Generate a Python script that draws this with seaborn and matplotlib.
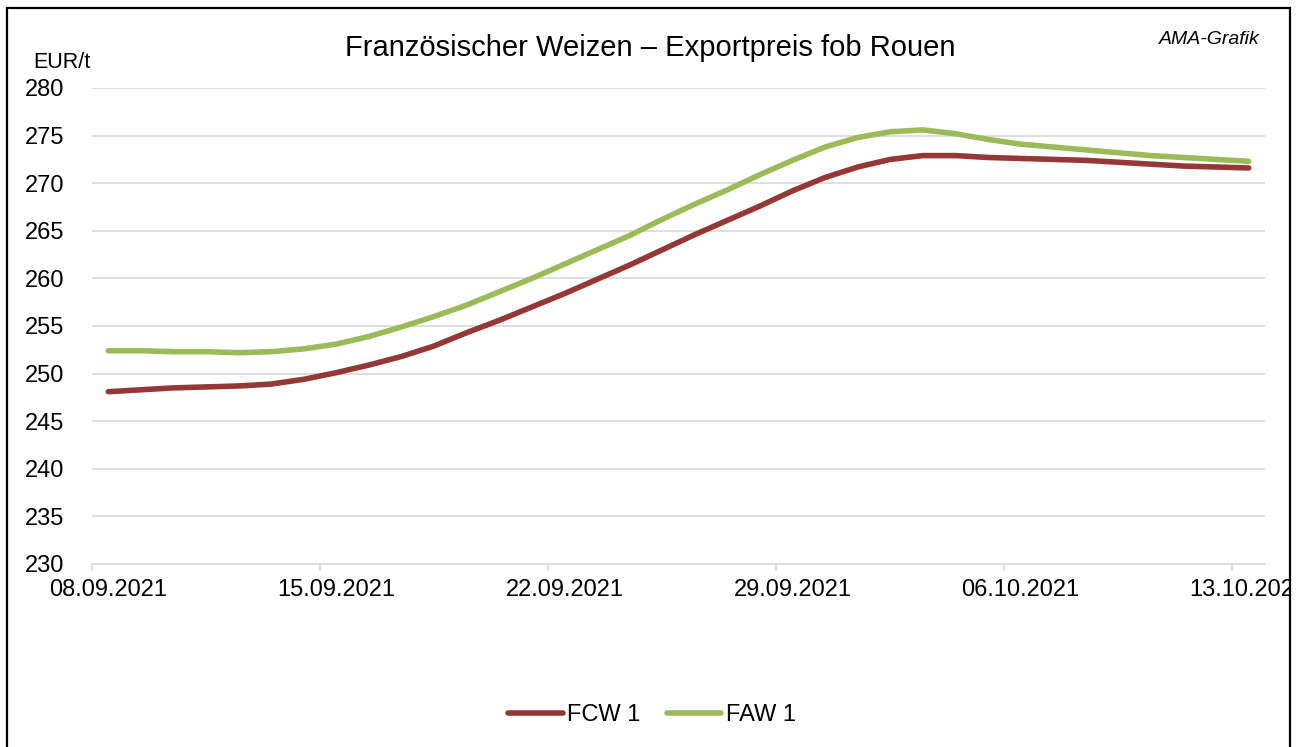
import matplotlib
matplotlib.use('Agg')
import matplotlib.pyplot as plt
import matplotlib.dates as mdates
from matplotlib.patches import Rectangle
from matplotlib.transforms import Bbox, TransformedBbox
import seaborn as sns
import pandas as pd

# daily values (08.09.2021 - 13.10.2021)
days = pd.date_range('2021-09-08', '2021-10-13', freq='D')
fcw1 = [248.1, 248.3, 248.5, 248.6, 248.7, 248.9, 249.4, 250.1, 250.9, 251.8,
        252.9, 254.3, 255.6, 257.0, 258.4, 259.9, 261.4, 263.0, 264.6, 266.1,
        267.6, 269.2, 270.6, 271.7, 272.5, 272.9, 272.9, 272.7, 272.6, 272.5,
        272.4, 272.2, 272.0, 271.8, 271.7, 271.6]
faw1 = [252.4, 252.4, 252.3, 252.3, 252.2, 252.3, 252.6, 253.1, 253.9, 254.9,
        256.0, 257.2, 258.6, 260.0, 261.5, 263.0, 264.5, 266.2, 267.8, 269.3,
        270.9, 272.4, 273.8, 274.8, 275.4, 275.6, 275.2, 274.6, 274.1, 273.8,
        273.5, 273.2, 272.9, 272.7, 272.5, 272.3]
tick_days = ['2021-09-08', '2021-09-15', '2021-09-22', '2021-09-29', '2021-10-06', '2021-10-13']
y_ticks = [230, 235, 240, 245, 250, 255, 260, 265, 270, 275, 280]

sns.set_theme(style='white')
plt.rcParams['font.family'] = ['Liberation Sans', 'DejaVu Sans']

W, H = 1306, 747
fig = plt.figure(figsize=(W / 100, H / 100), dpi=100, facecolor='white')
ax = fig.add_axes([92 / W, 1 - 564 / H, (1265 - 92) / W, (564 - 88) / H])

# Excel-style date axis: points sit in the middle of each day
half_day = pd.Timedelta(hours=12)
mid = days + half_day
sns.lineplot(x=mid, y=fcw1, ax=ax, color='#953735', linewidth=4,
             label='FCW 1', solid_capstyle='round', solid_joinstyle='round')
sns.lineplot(x=mid, y=faw1, ax=ax, color='#9BBB59', linewidth=4,
             label='FAW 1', solid_capstyle='round', solid_joinstyle='round')
if ax.get_legend() is not None:
    ax.get_legend().remove()

# axes
ax.set_ylim(230, 280)
ax.set_yticks(y_ticks)
ax.set_xlim(days[0], days[-1] + pd.Timedelta(days=1))
ticks = pd.to_datetime(tick_days)
ax.set_xticks(ticks + half_day)
ax.set_xticklabels([t.strftime('%d.%m.%Y') for t in ticks])
ax.set_xticks(ticks, minor=True)
ax.set_xlabel('')
ax.set_ylabel('')

ax.tick_params(axis='x', which='major', length=0, pad=11, labelsize=17, colors='black')
ax.tick_params(axis='x', which='minor', length=5, width=1.2, color='#D9D9D9',
               direction='out', bottom=True)
ax.tick_params(axis='y', length=0, pad=20, labelsize=17, colors='black')

for s in ['left', 'top', 'right']:
    ax.spines[s].set_visible(False)
ax.spines['bottom'].set_color('#D9D9D9')
ax.spines['bottom'].set_linewidth(1.2)

ax.yaxis.grid(True, color='#D9D9D9', linewidth=1.2)
ax.xaxis.grid(False)
ax.set_axisbelow(True)

# last date label is cut by the chart border, as in the original
clip = TransformedBbox(Bbox([[0, 0], [1289 / W, 1]]), fig.transFigure)
for lab in ax.get_xticklabels():
    lab.set_clip_box(clip)
    lab.set_clip_on(True)

# texts
fig.text(650 / W, 1 - 48 / H, 'Französischer Weizen – Exportpreis fob Rouen',
         ha='center', va='center', fontsize=21, color='black')
fig.text(33 / W, 1 - 62 / H, 'EUR/t', ha='left', va='center', fontsize=15.5, color='black')
fig.text(1260 / W, 1 - 40 / H, 'AMA-Grafik', ha='right', va='center',
         fontsize=14, style='italic', color='black')

# legend
handles, labels = ax.get_legend_handles_labels()
fig.legend(handles, labels, loc='center', bbox_to_anchor=(652 / W, 1 - 715 / H),
           ncol=2, frameon=False, fontsize=17, handlelength=2.3,
           handletextpad=0.2, columnspacing=1.1, labelcolor='black')

# chart border
fig.patches.append(Rectangle((7 / W, -0.02), (1290 - 7) / W, 1 - 8 / H + 0.02,
                             transform=fig.transFigure, fill=False,
                             edgecolor='black', linewidth=1.6))

plt.savefig('out.png', dpi=100, facecolor='white')
plt.close()
